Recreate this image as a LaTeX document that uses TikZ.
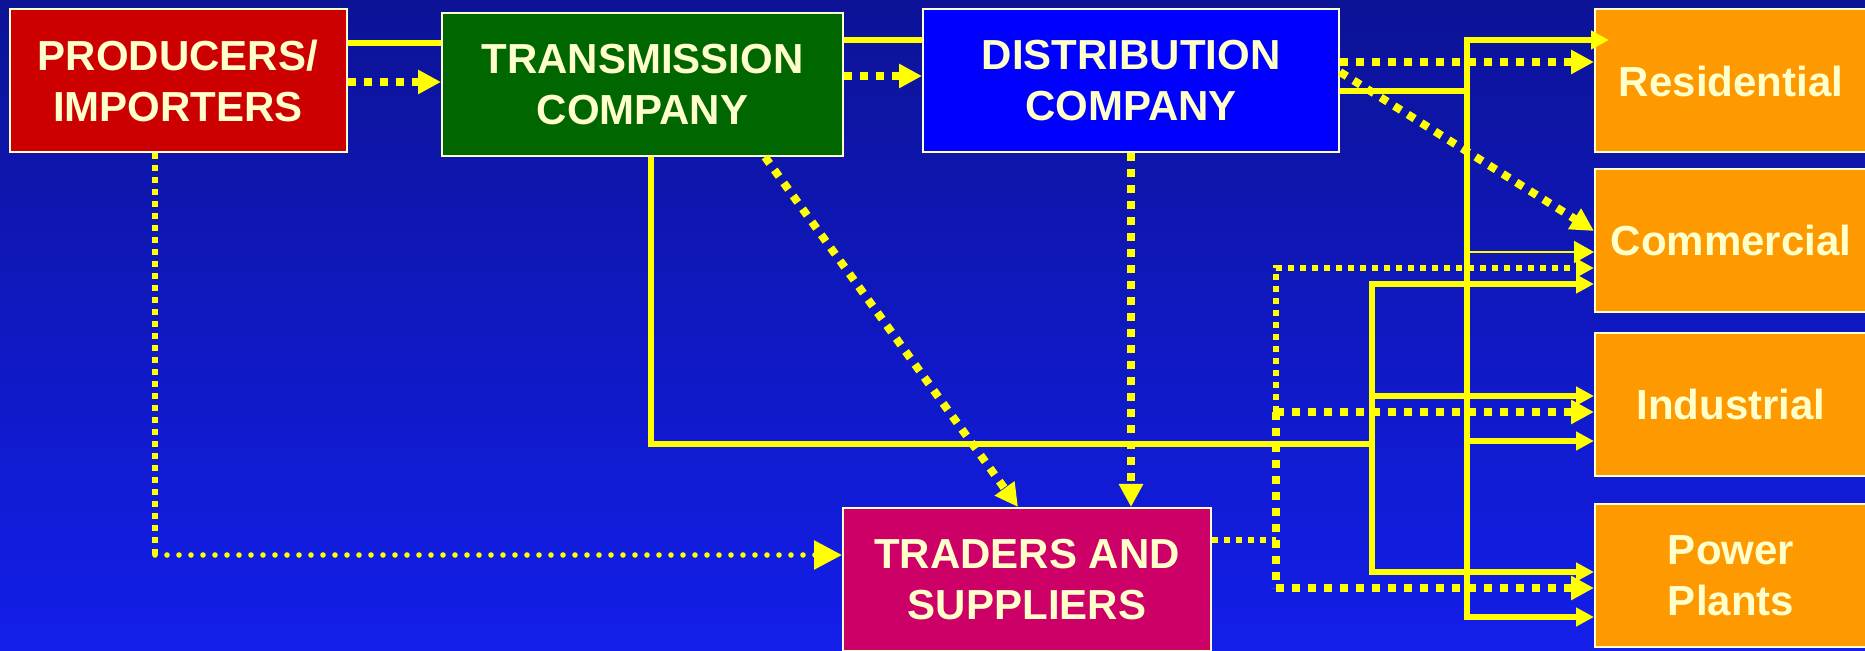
\documentclass[tikz,border=0pt]{standalone}
\usepackage{fontspec}
\setmainfont{Liberation Sans}
\usetikzlibrary{arrows.meta}

\definecolor{bgtop}{RGB}{12,19,150}
\definecolor{bgbot}{RGB}{19,30,234}
\definecolor{wirey}{RGB}{255,255,0}
\definecolor{cream}{RGB}{255,255,204}
\definecolor{prodred}{RGB}{204,0,0}
\definecolor{transgreen}{RGB}{0,102,0}
\definecolor{distblue}{RGB}{0,0,255}
\definecolor{tradpink}{RGB}{204,0,102}
\definecolor{custorange}{RGB}{255,153,0}

\tikzset{
  box/.style={draw=cream, line width=1pt, text=cream, align=center,
    font=\fontsize{21}{25.5}\selectfont\bfseries, inner sep=0pt,
    minimum height=71.5pt},
  cust/.style={box, fill=custorange, minimum width=136pt},
  wire/.style={draw=wirey, line width=2.6pt},
  thinwire/.style={draw=wirey, line width=1pt},
  dots/.style={draw=wirey, line width=4pt, dash pattern=on 4pt off 4pt},
  thindots/.style={draw=wirey, line width=2.8pt, dash pattern=on 2.8pt off 3.2pt},
  rounddots/.style={draw=wirey, line width=2.8pt, line cap=round, dash pattern=on 0pt off 6pt},
  smalltip/.style={-{Triangle[length=9pt,width=9pt]}, wirey},
  bigtip/.style={-{Triangle[length=11.5pt,width=11.5pt]}, wirey},
  hugetip/.style={-{Triangle[length=14pt,width=14pt]}, wirey}
}

\begin{document}
\begin{tikzpicture}[x=0.5pt, y=-0.5pt]
    % Background
    \shade[top color=bgtop, bottom color=bgbot] (0,0) rectangle (1865,651);
    \useasboundingbox (0,0) rectangle (1865,651);

    % Supply side
    \node[box, fill=prodred, minimum width=168.5pt] (prod) at (178,81) {PRODUCERS/\\IMPORTERS};
    \node[box, fill=transgreen, minimum width=200.5pt] (trans) at (642.5,84.5) {TRANSMISSION\\COMPANY};
    \node[box, fill=distblue, minimum width=208pt] (dist) at (1131,81) {DISTRIBUTION\\COMPANY};
    \node[box, fill=tradpink, minimum width=184pt] (trad) at (1027,579.5) {TRADERS AND\\SUPPLIERS};

    % Customers
    \node[cust] (res) at (1731,81) {Residential};
    \node[cust] (com) at (1731,240.5) {Commercial};
    \node[cust] (ind) at (1731,404.5) {Industrial};
    \node[cust] (pow) at (1731,576) {Power\\Plants};

    % Bus bars
    \coordinate (ja1) at (1467,40);
    \coordinate (ja4) at (1467,617);
    \coordinate (jb) at (1372,444);
    \coordinate (jb1) at (1372,284);
    \coordinate (jb3) at (1372,572);
    \coordinate (jc) at (1276,540);
    \coordinate (jc1) at (1276,268);
    \coordinate (jc2) at (1276,412);
    \coordinate (jc3) at (1276,588);
    \coordinate (pc) at (155,555);

    % Producers
    \draw[wire] (prod.east |- 0,43) -- (trans.west |- 0,43);
    \draw[dots, bigtip] (prod.east |- 0,82) -- (trans.west |- 0,82);
    \draw[thindots] (prod.south -| pc) -- (pc);
    \draw[rounddots, hugetip] (pc) -- (trad.west |- pc);

    % Transmission
    \draw[wire] (trans.east |- 0,40) -- (dist.west |- 0,40);
    \draw[dots, bigtip] (trans.east |- 0,76) -- (dist.west |- 0,76);
    \draw[dots, bigtip] (trans.south -| 765,0) -- (trad.north -| 1018,0);
    \draw[wire] (trans.south -| 651,0) |- (jb);
    \draw[wire, smalltip] (jb3) |- (com.west |- jb1);
    \draw[wire, smalltip] (jb1) |- (pow.west |- jb3);
    \draw[wire, smalltip] (jb1 |- 0,396) -- (ind.west |- 0,396);

    % Distribution
    \draw[dots, bigtip] (dist.east |- 0,62) -- (res.west |- 0,62);
    \draw[dots, bigtip] (dist.east |- 0,72) -- (com.west |- 0,231);
    \draw[dots, bigtip] (dist.south) -- (trad.north -| dist.south);
    \draw[wire] (dist.east |- 0,91) -- (ja1 |- 0,91);
    \draw[wire, smalltip] (ja4) |- ([xshift=7.5pt]res.west |- ja1);
    \draw[wire, smalltip] (ja1) |- (pow.west |- ja4);
    \draw[thinwire, -{Triangle[length=10pt,width=11pt]}, wirey] (ja1 |- 0,252) -- (com.west |- 0,252);
    \draw[wire, smalltip] (ja1 |- 0,441) -- (ind.west |- 0,441);

    % Traders
    \draw[thindots] (trad.east |- jc) -- (jc);
    \draw[thindots, smalltip] (jc2) |- (com.west |- jc1);
    \draw[dots] (jc2) -- (jc3);
    \draw[dots, bigtip] (jc2) -- (ind.west |- jc2);
    \draw[dots, bigtip] (jc3) -- (pow.west |- jc3);
\end{tikzpicture}
\end{document}
